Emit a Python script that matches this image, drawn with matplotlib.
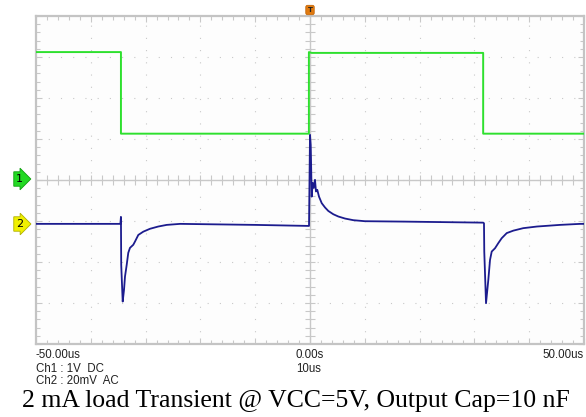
import numpy as np
import matplotlib
matplotlib.use("Agg")
import matplotlib.pyplot as plt

# time base 10us/div, Ch1 1V/div, Ch2 20mV/div
ch1_t = [-50, -34.5, -34.5, -0.2, -0.2, 0.3, 31.6, 31.6, 50]
ch1_v = [3.12, 3.12, 1.13, 1.13, 3.12, 3.10, 3.10, 1.13, 1.13]

ch2_t = [-50, -34.6, -34.5, -34.45, -34.18, -33.94, -33.76, -33.45, -33.16, -32.85, -32.25,
         -31.93, -31.33, -30.42, -29.2, -27.7, -26.15, -23.7, -10,
         -0.3, -0.18, 0.0, 0.13, 0.18, 0.31, 0.49, 0.68, 0.91, 1.09, 1.33, 1.64, 2.14, 2.74,
         3.34, 4.25, 5.16, 6.39, 7.9, 10.0, 17.3, 31.6,
         31.75, 31.8, 32.12, 32.54, 32.85, 33.16, 33.76, 34.36, 34.98, 35.9, 37.1, 38.9,
         41.4, 45.6, 49.3, 50]
ch2_mv = [0, 0, 3.4, -20, -37.9, -32.2, -25.7, -20, -14.1, -11.7, -10.2,
          -8.6, -5.4, -3.8, -2.4, -1.3, -0.5, 0, -0.5,
          -1.0, -1.0, 43.4, 38.5, 32, 13.3, 20, 17.6, 21.5, 15.8, 16.6, 13.3, 10.1, 8,
          6.3, 4.7, 3.6, 2.6, 1.8, 1.3, 1.1, 0.6,
          0.3, -13.5, -38.7, -27.3, -17.6, -13.5, -11.9, -9.4, -7.0, -4.5, -3.3, -2.1,
          -1.3, -0.5, 0, 0]

ch1_scale = 1.0    # V/div
ch2_scale = 20.0   # mV/div
ch1_offset = 0.0   # div
ch2_offset = -1.07 # div

W, H = 586, 417
fig = plt.figure(figsize=(W / 100, H / 100), dpi=100)
L, R, T, B = 36, 584, 16, 344
ax = fig.add_axes([L / W, 1 - B / H, (R - L) / W, (B - T) / H])
ax.set_facecolor('#fdfdfd')
ax.set_xlim(-50, 50)
ax.set_ylim(-4, 4)

grid_c = '#c8c8c8'
# dotted grid
for x in np.arange(-40, 50, 10):
    ax.axvline(x, color=grid_c, lw=0.8, ls=(0, (1, 10)), zorder=1)
for y in np.arange(-3, 4, 1):
    ax.axhline(y, color=grid_c, lw=0.8, ls=(0, (1, 10)), zorder=1)
# centre crosshair with minor ticks
ax.axhline(0, color=grid_c, lw=1.0, zorder=1)
ax.axvline(0, color=grid_c, lw=1.0, zorder=1)
xm = np.arange(-50, 50.01, 2)
ax.plot(xm, np.zeros_like(xm), ls='none', marker='|', ms=7, mew=0.8, color=grid_c, zorder=1)
ym = np.arange(-4, 4.01, 0.2)
ax.plot(np.zeros_like(ym), ym, ls='none', marker='_', ms=7, mew=0.8, color=grid_c, zorder=1)

ax.set_xticks(np.arange(-50, 51, 10))
ax.set_yticks(np.arange(-4, 5, 1))
ax.set_xticks(xm, minor=True)
ax.set_yticks(ym, minor=True)
ax.tick_params(which='both', direction='in', top=True, right=True, color=grid_c,
               labelbottom=False, labelleft=False, width=0.8)
ax.tick_params(which='major', length=4)
ax.tick_params(which='minor', length=3)
for s in ax.spines.values():
    s.set_color('#c4c4c4')
    s.set_linewidth(1.6)

y1 = ch1_offset + np.array(ch1_v) / ch1_scale
y2 = ch2_offset + np.array(ch2_mv) / ch2_scale
ax.plot(ch1_t, y1, color='#2ee02e', lw=1.4, zorder=3)
ax.plot(ch2_t, y2, color='#1c1c8e', lw=1.3, zorder=3)

# channel markers and trigger marker
def px(x, y):
    return x / W, 1 - y / H

fig.text(*px(16, 179), '1', fontsize=8, ha='left', va='center', color='black',
         bbox=dict(boxstyle='rarrow,pad=0.2', fc='#22d822', ec='#10a010', lw=0.6))
fig.text(*px(16, 224), '2', fontsize=8, ha='left', va='center', color='black',
         bbox=dict(boxstyle='rarrow,pad=0.2', fc='#f0f000', ec='#b0b000', lw=0.6))
fig.text(*px(310, 10), 'T', fontsize=5, ha='center', va='center', color='#222222',
         fontweight='bold',
         bbox=dict(boxstyle='round,pad=0.25', fc='#e07a10', ec='#c06000', lw=0.5))

small = dict(fontsize=8.3, family='Liberation Sans', color='#222222')
fig.text(*px(36, 355), '-50.00us', ha='left', va='center', **small)
fig.text(*px(296, 355), '0.00s', ha='left', va='center', **small)
fig.text(*px(584, 355), '50.00us', ha='right', va='center', **small)
fig.text(*px(296, 369), '10us', ha='left', va='center', **small)
fig.text(*px(36, 369), 'Ch1 : 1V  DC', ha='left', va='center', **small)
fig.text(*px(36, 381), 'Ch2 : 20mV  AC', ha='left', va='center', **small)

fig.text(*px(22, 401), '2 mA load Transient @ VCC=5V, Output Cap=10 nF',
         ha='left', va='center', fontsize=18.5, family='Liberation Serif', color='black')

fig.savefig('out.png', dpi=100, facecolor='white')
